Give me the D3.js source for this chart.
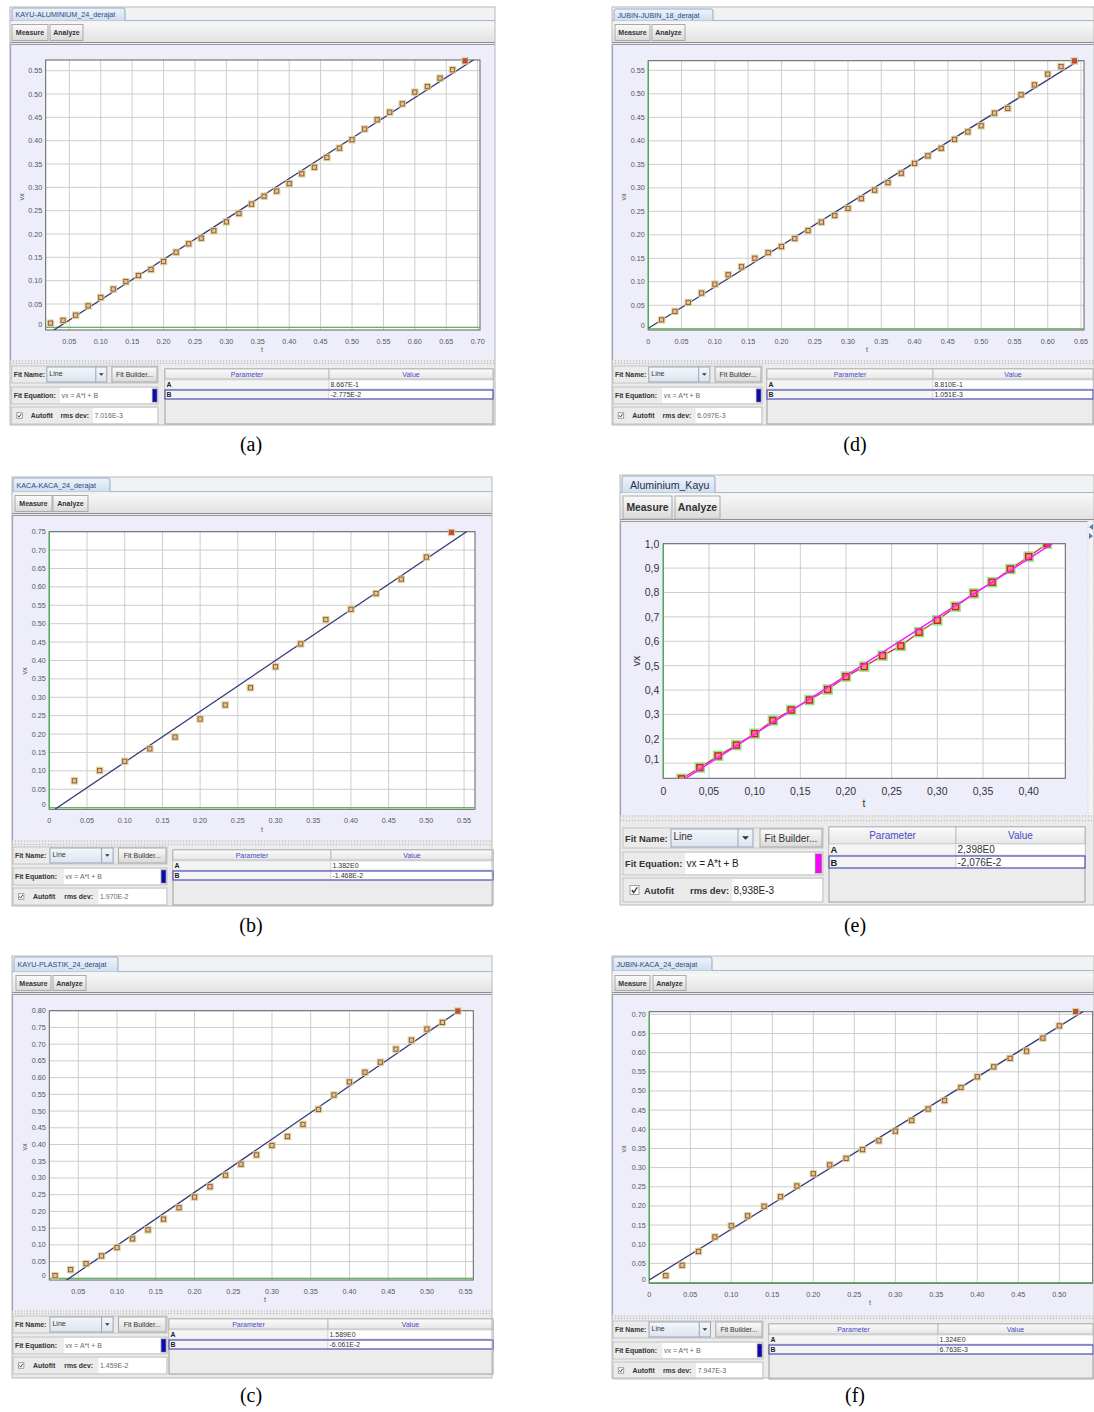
<!DOCTYPE html>
<html><head><meta charset="utf-8">
<script src="https://cdn.jsdelivr.net/npm/d3@7"></script>
<style>body{margin:0;background:#fff}svg{display:block}</style>
</head><body>
<svg id="c" width="1094" height="1412"></svg>
<script>
// ---------------- DATA ----------------
const tA  = [0.02,0.04,0.06,0.08,0.10,0.12,0.14,0.16,0.18,0.20,0.22,0.24,0.26,0.28,0.30,0.32,0.34,0.36,0.38,0.40,0.42,0.44,0.46,0.48,0.50,0.52,0.54,0.56,0.58,0.60,0.62,0.64,0.66,0.68];
const vxA = [0.009,0.015,0.026,0.046,0.064,0.082,0.098,0.111,0.124,0.141,0.161,0.179,0.191,0.207,0.226,0.244,0.264,0.281,0.292,0.308,0.329,0.343,0.364,0.384,0.402,0.425,0.445,0.461,0.479,0.504,0.516,0.534,0.552,0.571];
const fitA = [0.8667, -0.02775];
const fitTextA = ["8.667E-1", "-2.775E-2"];
const rmsA = "7.016E-3";
const xTicksA = [0.05,0.10,0.15,0.20,0.25,0.30,0.35,0.40,0.45,0.50,0.55,0.60,0.65,0.70];
const yTicksA = [0,0.05,0.10,0.15,0.20,0.25,0.30,0.35,0.40,0.45,0.50,0.55];

const tD  = [0.02,0.04,0.06,0.08,0.10,0.12,0.14,0.16,0.18,0.20,0.22,0.24,0.26,0.28,0.30,0.32,0.34,0.36,0.38,0.40,0.42,0.44,0.46,0.48,0.50,0.52,0.54,0.56,0.58,0.60,0.62,0.64];
const vxD = [0.019,0.037,0.056,0.076,0.095,0.115,0.132,0.150,0.162,0.175,0.192,0.209,0.227,0.241,0.256,0.277,0.295,0.311,0.331,0.352,0.368,0.384,0.403,0.419,0.432,0.459,0.469,0.498,0.519,0.542,0.558,0.570];
const fitD = [0.8810, 0.001051];
const fitTextD = ["8.810E-1", "1.051E-3"];
const rmsD = "6.097E-3";
const xTicksD = [0,0.05,0.10,0.15,0.20,0.25,0.30,0.35,0.40,0.45,0.50,0.55,0.60,0.65];
const yTicksD = [0,0.05,0.10,0.15,0.20,0.25,0.30,0.35,0.40,0.45,0.50,0.55];

const tB  = [0.0333,0.0667,0.1000,0.1333,0.1667,0.2000,0.2333,0.2667,0.3000,0.3333,0.3667,0.4000,0.4333,0.4667,0.5000,0.5333];
const vxB = [0.073,0.101,0.126,0.160,0.192,0.241,0.279,0.326,0.383,0.445,0.511,0.539,0.582,0.621,0.681,0.748];
const fitB = [1.382, -0.01468];
const fitTextB = ["1.382E0", "-1.468E-2"];
const rmsB = "1.970E-2";
const xTicksB = [0,0.05,0.10,0.15,0.20,0.25,0.30,0.35,0.40,0.45,0.50,0.55];
const yTicksB = [0,0.05,0.10,0.15,0.20,0.25,0.30,0.35,0.40,0.45,0.50,0.55,0.60,0.65,0.70,0.75];

const tE  = [0.02,0.04,0.06,0.08,0.10,0.12,0.14,0.16,0.18,0.20,0.22,0.24,0.26,0.28,0.30,0.32,0.34,0.36,0.38,0.40,0.42];
const vxE = [0.036,0.082,0.130,0.174,0.221,0.275,0.318,0.359,0.402,0.455,0.496,0.541,0.581,0.637,0.686,0.742,0.796,0.842,0.896,0.947,1.000];
const fitE = [2.398, -0.02076];
const fitTextE = ["2,398E0", "-2,076E-2"];
const rmsE = "8,938E-3";
const xTicksE = [0,0.05,0.10,0.15,0.20,0.25,0.30,0.35,0.40];
const yTicksE = [0.1,0.2,0.3,0.4,0.5,0.6,0.7,0.8,0.9,1.0];

const tC  = [0.02,0.04,0.06,0.08,0.10,0.12,0.14,0.16,0.18,0.20,0.22,0.24,0.26,0.28,0.30,0.32,0.34,0.36,0.38,0.40,0.42,0.44,0.46,0.48,0.50,0.52,0.54];
const vxC = [0.008,0.026,0.044,0.067,0.092,0.118,0.145,0.177,0.211,0.243,0.274,0.308,0.341,0.369,0.397,0.424,0.460,0.505,0.548,0.587,0.616,0.646,0.685,0.712,0.745,0.765,0.799];
const fitC = [1.589, -0.06061];
const fitTextC = ["1.589E0", "-6.061E-2"];
const rmsC = "1.459E-2";
const xTicksC = [0.05,0.10,0.15,0.20,0.25,0.30,0.35,0.40,0.45,0.50,0.55];
const yTicksC = [0,0.05,0.10,0.15,0.20,0.25,0.30,0.35,0.40,0.45,0.50,0.55,0.60,0.65,0.70,0.75,0.80];

const tF  = [0.02,0.04,0.06,0.08,0.10,0.12,0.14,0.16,0.18,0.20,0.22,0.24,0.26,0.28,0.30,0.32,0.34,0.36,0.38,0.40,0.42,0.44,0.46,0.48,0.50,0.52];
const vxF = [0.018,0.045,0.081,0.119,0.148,0.174,0.199,0.224,0.252,0.284,0.307,0.324,0.347,0.370,0.395,0.423,0.453,0.475,0.509,0.537,0.563,0.585,0.604,0.638,0.670,0.707];
const fitF = [1.324, 0.006763];
const fitTextF = ["1.324E0", "6.763E-3"];
const rmsF = "7.947E-3";
const xTicksF = [0,0.05,0.10,0.15,0.20,0.25,0.30,0.35,0.40,0.45,0.50];
const yTicksF = [0,0.05,0.10,0.15,0.20,0.25,0.30,0.35,0.40,0.45,0.50,0.55,0.60,0.65,0.70];

const tabNames = ["KAYU-ALUMINIUM_24_derajat","JUBIN-JUBIN_18_derajat","KACA-KACA_24_derajat","Aluminium_Kayu","KAYU-PLASTIK_24_derajat","JUBIN-KACA_24_derajat"];
const captions = ["(a)","(d)","(b)","(e)","(c)","(f)"];

// ---------------- LAYOUT ----------------
const layouts = [
 {box:[10,7,495,425], tab:[12,125,8,20], tb:[23,42], btnM:[12,48], btnA:[50,83], bgTop:44, bgBot:360, fitTop:365,
  frame:[45.7,60,480,330], xDom:[0.01238,0.7037], yDom:[-0.0057,0.5729], ylab:[21,197], xlab:[262,349],
  left:[11.7,158], table:[165,493,329], cap:[251,451], big:false},
 {box:[612,7,1094,425], tab:[614,713,9,20], tb:[23,42], btnM:[615,650], btnA:[652,685], bgTop:44, bgBot:360, fitTop:365,
  frame:[648.3,60.7,1084,330], xDom:[0,0.6545], yDom:[-0.0026,0.5705], ylab:[623,197], xlab:[867,349],
  left:[613,762], table:[767,1093,933], cap:[855,451], big:false},
 {box:[12,477,492,906], tab:[13,110,478,491], tb:[494,513], btnM:[15,52], btnA:[53,88], bgTop:515, bgBot:840, fitTop:846,
  frame:[49.3,531.7,475,809.3], xDom:[0,0.5645], yDom:[-0.0044,0.75], ylab:[24,671], xlab:[262,829],
  left:[13,167], table:[173,493,331], cap:[251,932], big:false},
 {box:[620,475,1094,905], tab:[622,715,476,492], tb:[494,519], btnM:[623,672], btnA:[675,720], bgTop:521, bgBot:815, fitTop:822,
  frame:[663.3,543.7,1065.3,778.3], xDom:[0,0.4401], yDom:[0.038,1.0], ylab:[636,661], xlab:[864,803],
  left:[623,823], table:[829,1085,956], cap:[855,932], big:true},
 {box:[12,956,492,1378], tab:[14,118,957,971], tb:[974,992], btnM:[16,51], btnA:[53,86], bgTop:994, bgBot:1310, fitTop:1315,
  frame:[49.3,1010.7,473.3,1280], xDom:[0.01255,0.5599], yDom:[-0.005,0.80], ylab:[24,1147], xlab:[265,1299],
  left:[13,167], table:[169,493,328], cap:[251,1402], big:false},
 {box:[612,956,1094,1378], tab:[613,712,957,970], tb:[974,992], btnM:[615,650], btnA:[653,686], bgTop:994, bgBot:1315, fitTop:1320,
  frame:[649.3,1011.7,1092.7,1283.3], xDom:[0,0.5407], yDom:[-0.002,0.7069], ylab:[623,1149], xlab:[870,1302],
  left:[613,763], table:[769,1093,938], cap:[855,1402], big:false}
];

const panels = [
 {t:tA, v:vxA, fit:fitA, fitText:fitTextA, rms:rmsA, xT:xTicksA, yT:yTicksA},
 {t:tD, v:vxD, fit:fitD, fitText:fitTextD, rms:rmsD, xT:xTicksD, yT:yTicksD},
 {t:tB, v:vxB, fit:fitB, fitText:fitTextB, rms:rmsB, xT:xTicksB, yT:yTicksB},
 {t:tE, v:vxE, fit:fitE, fitText:fitTextE, rms:rmsE, xT:xTicksE, yT:yTicksE},
 {t:tC, v:vxC, fit:fitC, fitText:fitTextC, rms:rmsC, xT:xTicksC, yT:yTicksC},
 {t:tF, v:vxF, fit:fitF, fitText:fitTextF, rms:rmsF, xT:xTicksF, yT:yTicksF}
];

const TPL_S = {name:[1,18], eq:[22,39], auto:[42,59], head:[4,14], A:[15,24], B:[25,34], bot:59, fs:7, bfs:6.9,
  autoX:0.13, rmsX:0.333, rmsF:0.555, eqF:0.33, chk:5.5};
const TPL_B = {name:[6,26], eq:[30,53], auto:[56,80], head:[5,22], A:[22,33], B:[34,46], bot:80, fs:10, bfs:9.4,
  autoX:0.105, rmsX:0.335, rmsF:0.545, eqF:0.31, chk:9};

const FONT = "'Liberation Sans', Arial, sans-serif";
const svg = d3.select('#c');
const defs = svg.append('defs');
function lg(id, stops){
  const g = defs.append('linearGradient').attr('id',id).attr('x1',0).attr('x2',0).attr('y1',0).attr('y2',1);
  stops.forEach(([o,c]) => g.append('stop').attr('offset',o).attr('stop-color',c));
}
lg('gBtn', [[0,'#fbfbfb'],[1,'#d9d9d9']]);
lg('gBar', [[0,'#f7f7f7'],[1,'#e2e2e2']]);
lg('gTab', [[0,'#edf3fb'],[1,'#d2deef']]);
lg('gCombo', [[0,'#f4f7fb'],[1,'#dde4ee']]);
lg('gHead', [[0,'#fbfbfb'],[1,'#e6e6e6']]);

function rect(g,x0,y0,x1,y1,fill,stroke,sw){
  return g.append('rect').attr('x',x0).attr('y',y0).attr('width',Math.max(0,x1-x0)).attr('height',Math.max(0,y1-y0))
    .attr('fill',fill||'none').attr('stroke',stroke||'none').attr('stroke-width',sw||1);
}
function txt(g,x,y,s,o){
  o = o||{};
  return g.append('text').attr('x',x).attr('y',y).attr('dominant-baseline','central')
    .attr('font-family',o.font||FONT).attr('font-size',o.fs||7.2)
    .attr('font-weight',o.bold?'bold':'normal').attr('fill',o.fill||'#222')
    .attr('text-anchor',o.anchor||'start').text(s);
}
function line(g,x1,y1,x2,y2,stroke,sw,dash){
  const l = g.append('line').attr('x1',x1).attr('y1',y1).attr('x2',x2).attr('y2',y2)
    .attr('stroke',stroke).attr('stroke-width',sw||1);
  if (dash) l.attr('stroke-dasharray',dash);
  return l;
}
function button(g,x0,y0,x1,y1,label,fs,bold){
  rect(g,x0,y0,x1,y1,'url(#gBtn)','#a9a9a9',1);
  txt(g,(x0+x1)/2,(y0+y1)/2,label,{fs:fs,bold:bold,anchor:'middle',fill:'#333'});
}

function drawPanel(P, L, idx){
  const big = L.big, T = big ? TPL_B : TPL_S;
  const g = svg.append('g');
  const [bx0,by0,bx1,by1] = L.box;
  rect(g,bx0,by0,bx1,by1,'#ebebeb');
  rect(g,bx0,by0,bx1,L.tb[0],'#f1f2f4');
  line(g,bx0,L.tab[3]+0.5,bx1,L.tab[3]+0.5,'#a8b8cf',1);
  const [tx0,tx1,ty0,ty1] = L.tab;
  g.append('path').attr('d',`M${tx0},${ty1+0.5} L${tx0},${ty0+2} Q${tx0},${ty0} ${tx0+2},${ty0} L${tx1-2},${ty0} Q${tx1},${ty0} ${tx1},${ty0+2} L${tx1},${ty1+0.5}`)
    .attr('fill','url(#gTab)').attr('stroke','#95a9c6').attr('stroke-width',1);
  txt(g, tx0 + (big?8:3.5), (ty0+ty1)/2+0.5, tabNames[idx], {fs: big?10.6:7.2, fill: big?'#1f2f4f':'#2b4a80'});
  rect(g,bx0,L.tb[0],bx1,L.tb[1],'url(#gBar)');
  line(g,bx0,L.tb[1]+0.5,bx1,L.tb[1]+0.5,'#8e8e8e',1);
  const bY0 = L.tb[0]+(big?2:1.5), bY1 = L.tb[1]-(big?0:1.5);
  button(g,L.btnM[0],bY0,L.btnM[1],bY1,'Measure',big?10.4:7,true);
  button(g,L.btnA[0],bY0,L.btnA[1],bY1,'Analyze',big?10.4:7,true);
  rect(g,bx0,L.bgTop,bx1,L.bgBot,'#eeeefb');
  line(g,bx0+0.5,L.bgTop,bx0+0.5,L.bgBot,'#8393bd',1.2);
  line(g,bx0,L.bgTop+0.5,bx1,L.bgTop+0.5,'#9a9aa6',1);
  if (big){
    rect(g,bx1-6,L.bgTop,bx1,L.bgBot,'#f3f3f3');
    line(g,bx1-6,L.bgTop,bx1-6,L.bgBot,'#c8c8c8',1,'1,2');
    g.append('path').attr('d',`M${bx1-5},${L.bgTop+6} l4,-3 l0,6 z`).attr('fill','#5a7bb0');
    g.append('path').attr('d',`M${bx1-5},${L.bgTop+12} l0,6 l4,-3 z`).attr('fill','#5a7bb0');
  }

  const [fx0,fy0,fx1,fy1] = L.frame;
  rect(g,fx0,fy0,fx1,fy1,'#ffffff');
  const x = d3.scaleLinear().domain(L.xDom).range([fx0,fx1]);
  const y = d3.scaleLinear().domain(L.yDom).range([fy1,fy0]);
  const cid = 'clip'+idx;
  defs.append('clipPath').attr('id',cid).append('rect').attr('x',fx0).attr('y',fy0).attr('width',fx1-fx0).attr('height',fy1-fy0);
  const pg = g.append('g').attr('clip-path',`url(#${cid})`);
  pg.selectAll('.gx').data(P.xT).enter().append('line')
    .attr('x1',d=>x(d)).attr('x2',d=>x(d)).attr('y1',fy0).attr('y2',fy1)
    .attr('stroke','#cdcdcd').attr('stroke-width',1);
  pg.selectAll('.gy').data(P.yT).enter().append('line')
    .attr('x1',fx0).attr('x2',fx1).attr('y1',d=>y(d)).attr('y2',d=>y(d))
    .attr('stroke','#cdcdcd').attr('stroke-width',1);
  rect(g,fx0,fy0,fx1,fy1,'none','#5f5f5f',1);
  if (L.yDom[0] <= 0 && L.yDom[1] >= 0) line(g,fx0,y(0),fx1,y(0),'#5cb85c',1.3);
  if (L.xDom[0] <= 0 && L.xDom[1] >= 0) line(g,x(0),fy0,x(0),fy1,'#4caf50',1.3);

  const pts = P.t.map((t,i)=>({t:t, v:P.v[i], last: i===P.t.length-1}));
  const pg2 = g.append('g').attr('clip-path',`url(#${cid})`);
  const mg = big ? pg2 : g.append('g');
  if (big){
    pg2.append('path').datum(pts)
      .attr('d', d3.line().x(d=>x(d.t)).y(d=>y(d.v)))
      .attr('fill','none').attr('stroke','#b8483a').attr('stroke-width',1.3);
  }
  const hs = big ? 10.5 : 7.5, is = big ? 6 : 4.2;
  const mk = mg.selectAll('.mk').data(pts).enter().append('g')
    .attr('transform', d=>`translate(${x(d.t)},${y(d.v)})`);
  mk.append('rect').attr('x',-hs/2).attr('y',-hs/2).attr('width',hs).attr('height',hs)
    .attr('fill', big ? '#86e886' : '#cfd38e').attr('opacity', big?0.95:0.85);
  mk.append('rect').attr('x',-is/2).attr('y',-is/2).attr('width',is).attr('height',is)
    .attr('fill', d => d.last ? '#e23a3a' : (big ? '#f08a8a' : '#d8c99c'))
    .attr('stroke', big ? '#e01a1a' : '#a8573e').attr('stroke-width', big?1.4:1);
  const fitLine = [L.xDom[0], L.xDom[1]].map(t => ({t:t, v:P.fit[0]*t + P.fit[1]}));
  pg2.append('path').datum(fitLine)
    .attr('d', d3.line().x(d=>x(d.t)).y(d=>y(d.v)))
    .attr('fill','none').attr('stroke', big ? '#ff1aff' : '#3a3a78').attr('stroke-width', big?1.5:1.3);

  const fmtX = big ? (d => d===0 ? '0' : d.toFixed(2).replace('.',',')) : (d => d===0 ? '0' : d.toFixed(2));
  const fmtY = big ? (d => d.toFixed(1).replace('.',',')) : (d => d===0 ? '0' : d.toFixed(2));
  const tfs = big ? 10.5 : 7.2, tcol = big ? '#333' : '#555';
  g.selectAll('.xl').data(P.xT).enter().append('text')
    .attr('x',d=>x(d)).attr('y',fy1 + (big?13:11)).attr('dominant-baseline','central')
    .attr('text-anchor','middle').attr('font-family',FONT).attr('font-size',tfs).attr('fill',tcol)
    .text(fmtX);
  g.selectAll('.yl').data(P.yT).enter().append('text')
    .attr('x',fx0 - (big?4:3.5)).attr('y',(d,i)=> y(d) - (i===0 ? (big?4:3) : 0)).attr('dominant-baseline','central')
    .attr('text-anchor','end').attr('font-family',FONT).attr('font-size',tfs).attr('fill',tcol)
    .text(fmtY);
  txt(g,L.xlab[0],L.xlab[1],'t',{fs:tfs,anchor:'middle',fill:tcol});
  g.append('text').attr('transform',`translate(${L.ylab[0]},${L.ylab[1]}) rotate(-90)`)
    .attr('text-anchor','middle').attr('dominant-baseline','central')
    .attr('font-family',FONT).attr('font-size',tfs).attr('fill',tcol).text('vx');

  rect(g,bx0,L.bgBot,bx1,L.fitTop,'#e9e9e9');
  line(g,bx0,L.bgBot+1,bx1,L.bgBot+1,'#b4b4b4',1,'1,2');
  line(g,bx0,L.fitTop-1.5,bx1,L.fitTop-1.5,'#b4b4b4',1,'1,2');

  // ---------- fit panel ----------
  const ft = L.fitTop;
  const [lx0,lx1] = L.left, lw = lx1-lx0;
  const ffs = T.fs, bfs = T.bfs;
  let r0 = ft+T.name[0], r1 = ft+T.name[1], rc = (r0+r1)/2;
  rect(g,lx0,r0,lx1,r1,'#ebebeb','#c3c3c3',1);
  txt(g,lx0+2,rc,'Fit Name:',{fs:bfs,bold:true,fill:'#333'});
  const cx0 = lx0+0.24*lw, cx1 = lx0+0.65*lw, ax0 = lx0+0.575*lw;
  rect(g,cx0,r0+1,cx1,r1-1,'url(#gCombo)','#98a6b8',1);
  line(g,ax0,r0+1,ax0,r1-1,'#98a6b8',1);
  txt(g,cx0+2.5,rc-(big?2:1),'Line',{fs:ffs,fill:'#333'});
  const am = (ax0+cx1)/2, ah = big?3.5:2.3;
  g.append('path').attr('d',`M${am-ah},${rc-ah/2} L${am+ah},${rc-ah/2} L${am},${rc+ah/2} Z`).attr('fill','#333');
  button(g,lx0+0.685*lw,r0+1,lx1-1,r1-1,'Fit Builder...',ffs,false);
  r0 = ft+T.eq[0]; r1 = ft+T.eq[1]; rc = (r0+r1)/2;
  rect(g,lx0,r0,lx1,r1,'#ebebeb','#c3c3c3',1);
  txt(g,lx0+2,rc,'Fit Equation:',{fs:bfs,bold:true,fill:'#333'});
  rect(g,lx0+T.eqF*lw,r0+1,lx0+0.955*lw,r1-1,'#ffffff');
  txt(g,lx0+T.eqF*lw+1.5,rc,'vx = A*t + B',{fs:ffs,fill:big?'#222':'#666'});
  rect(g,lx0+0.962*lw,r0+2,lx0+0.993*lw,r1-2,big?'#ff00ff':'#0a0ab8','#777',0.6);
  r0 = ft+T.auto[0]; r1 = ft+T.auto[1]; rc = (r0+r1)/2;
  rect(g,lx0,r0,lx1,r1,'#ebebeb','#c3c3c3',1);
  const ck = T.chk, ckx = lx0+0.035*lw;
  rect(g,ckx,rc-ck/2,ckx+ck,rc+ck/2,'#ffffff','#8a8a8a',0.8);
  g.append('path').attr('d',`M${ckx+ck*0.2},${rc} L${ckx+ck*0.42},${rc+ck*0.28} L${ckx+ck*0.8},${rc-ck*0.3}`)
    .attr('fill','none').attr('stroke','#333').attr('stroke-width',big?1.3:0.9);
  txt(g,lx0+T.autoX*lw,rc,'Autofit',{fs:bfs,bold:true,fill:'#333'});
  txt(g,lx0+T.rmsX*lw,rc,'rms dev:',{fs:bfs,bold:true,fill:'#333'});
  rect(g,lx0+T.rmsF*lw,r0+1,lx1-1,r1-1,'#ffffff');
  txt(g,lx0+T.rmsF*lw+1.5,rc,P.rms,{fs:ffs,fill:big?'#222':'#666'});

  const [qx0,qx1,qd] = L.table;
  rect(g,qx0,ft+T.head[0],qx1,ft+T.bot,'#ececec','#9c9c9c',1);
  r0 = ft+T.head[0]; r1 = ft+T.head[1]; rc=(r0+r1)/2;
  rect(g,qx0,r0,qd,r1,'url(#gHead)','#b5b5b5',0.8);
  rect(g,qd,r0,qx1,r1,'url(#gHead)','#b5b5b5',0.8);
  txt(g,(qx0+qd)/2,rc,'Parameter',{fs:ffs,anchor:'middle',fill:'#4a4ac8'});
  txt(g,(qd+qx1)/2,rc,'Value',{fs:ffs,anchor:'middle',fill:'#4a4ac8'});
  ['A','B'].forEach((nm,k)=>{
    const rr = k===0 ? T.A : T.B;
    const y0 = ft+rr[0], y1 = ft+rr[1], yc=(y0+y1)/2;
    rect(g,qx0,y0,qd,y1,'#f4f4f4','#d0d0d0',0.6);
    rect(g,qd,y0,qx1,y1,'#ffffff','#c8c8c8',0.6);
    txt(g,qx0+1.5,yc,nm,{fs:bfs,bold:true,fill:'#222'});
    txt(g,qd+1.5,yc,P.fitText[k],{fs:ffs,fill:'#333'});
    if (k===1) rect(g,qx0,y0,qx1,y1,'none','#4848bb',1.1);
  });

  rect(g,bx0,by0,bx1,by1,'none','#b8b8b8',1);
  txt(svg,L.cap[0],L.cap[1],captions[idx],{font:"'Liberation Serif','Times New Roman',serif",fs:20,anchor:'middle',fill:'#000'})
    .attr('dominant-baseline','auto');
}

panels.forEach((P,i)=>drawPanel(P, layouts[i], i));
</script>
</body></html>
